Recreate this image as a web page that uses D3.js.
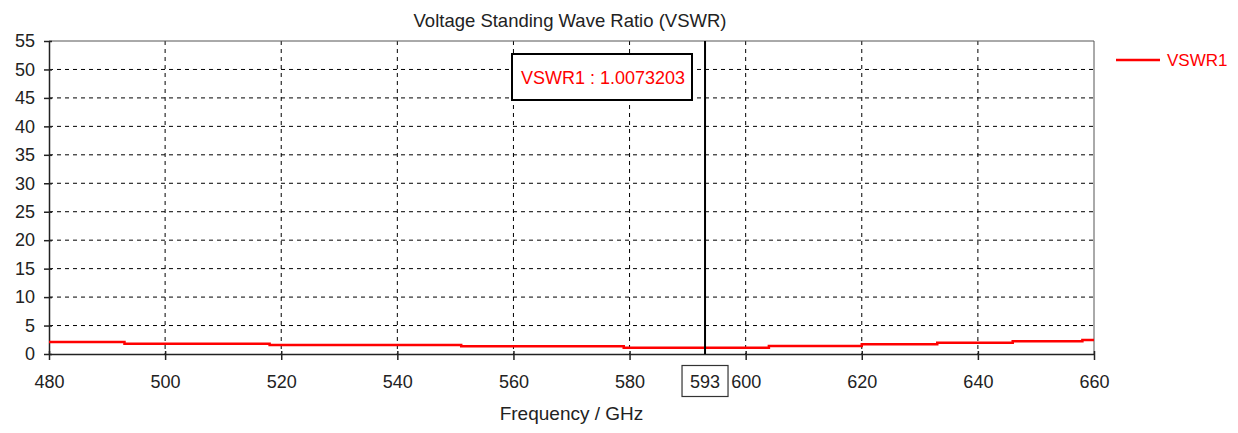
<!DOCTYPE html>
<html>
<head>
<meta charset="utf-8">
<script src="https://cdn.jsdelivr.net/npm/d3@7"></script>
<style>
  body { margin: 0; background: #fff; }
  text { font-family: 'Liberation Sans', Arial, sans-serif; }
</style>
</head>
<body>
<div id="chart"></div>
<script>
// step points (GHz, VSWR)
const freqs = [480, 493, 518, 551, 579, 604, 620, 633, 646, 658, 660]
const vswr = [2.1, 1.82, 1.58, 1.35, 1.1, 1.4, 1.7, 1.98, 2.25, 2.48, 2.48]
const xTicks = [480, 500, 520, 540, 560, 580, 600, 620, 640, 660]
const yTicks = [0, 5, 10, 15, 20, 25, 30, 35, 40, 45, 50, 55]
const markerFreq = 593
const markerLabel = 'VSWR1 : 1.0073203'
const seriesName = 'VSWR1'

const width = 1238
const height = 433
const margin = { top: 41, right: 144, bottom: 79, left: 49 }

const svg = d3
  .select('#chart')
  .append('svg')
  .attr('width', width)
  .attr('height', height)

const x = d3
  .scaleLinear()
  .domain([480, 660])
  .range([margin.left, width - margin.right])
const y = d3
  .scaleLinear()
  .domain([0, 55])
  .range([height - margin.bottom, margin.top])

const x0 = x.range()[0], x1 = x.range()[1]
const yb = y.range()[0], yt = y.range()[1]

// grid
svg
  .selectAll('line.vgrid')
  .data(xTicks.slice(1, -1))
  .enter()
  .append('line')
  .attr('x1', d => x(d))
  .attr('x2', d => x(d))
  .attr('y1', yt)
  .attr('y2', yb)
  .attr('stroke', '#000')
  .attr('stroke-width', 1)
  .attr('stroke-dasharray', '4,4')
svg
  .selectAll('line.hgrid')
  .data(yTicks.slice(1, -1))
  .enter()
  .append('line')
  .attr('x1', x0)
  .attr('x2', x1)
  .attr('y1', d => y(d))
  .attr('y2', d => y(d))
  .attr('stroke', '#000')
  .attr('stroke-width', 1)
  .attr('stroke-dasharray', '4,4')

// frame
svg.append('line').attr('x1', x0).attr('x2', x1).attr('y1', yt).attr('y2', yt).attr('stroke', '#555')
svg.append('line').attr('x1', x1).attr('x2', x1).attr('y1', yt).attr('y2', yb).attr('stroke', '#555')

// axes
const xAxis = svg
  .append('g')
  .attr('transform', `translate(0,${yb})`)
  .call(d3.axisBottom(x).tickValues(xTicks).tickSize(6).tickSizeOuter(0).tickPadding(15))
const yAxis = svg
  .append('g')
  .attr('transform', `translate(${x0},0)`)
  .call(d3.axisLeft(y).tickValues(yTicks).tickSize(5).tickSizeOuter(0).tickPadding(9))

;[xAxis, yAxis].forEach(g => {
  g.select('.domain').attr('stroke', '#222').attr('stroke-width', 1.5)
  g.selectAll('.tick line').attr('stroke', '#222').attr('stroke-width', 1.5)
  g.selectAll('.tick text')
    .attr('fill', '#222')
    .style('font-size', '18px')
    .style('font-family', "'Liberation Sans', Arial, sans-serif")
})
// ticks cross the axis line
xAxis.selectAll('.tick line').attr('y1', -3)
yAxis.selectAll('.tick line').attr('x1', 3)

// data line
const line = d3
  .line()
  .x((d, i) => x(freqs[i]))
  .y(d => y(d))
  .curve(d3.curveStepAfter)
svg
  .append('path')
  .datum(vswr)
  .attr('d', line)
  .attr('fill', 'none')
  .attr('stroke', '#ff0000')
  .attr('stroke-width', 2.5)

// marker
svg
  .append('line')
  .attr('x1', x(markerFreq))
  .attr('x2', x(markerFreq))
  .attr('y1', yt)
  .attr('y2', yb)
  .attr('stroke', '#000')
  .attr('stroke-width', 2)

svg
  .append('rect')
  .attr('x', x(markerFreq) - 23)
  .attr('y', 365.5)
  .attr('width', 46)
  .attr('height', 31)
  .attr('fill', '#fff')
  .attr('stroke', '#333')
  .attr('stroke-width', 1.2)
svg
  .append('text')
  .attr('x', x(markerFreq))
  .attr('y', 388)
  .attr('text-anchor', 'middle')
  .attr('fill', '#222')
  .style('font-size', '18px')
  .text(markerFreq)

// marker readout box
svg
  .append('rect')
  .attr('x', 512)
  .attr('y', 54)
  .attr('width', 180)
  .attr('height', 46)
  .attr('fill', '#fff')
  .attr('stroke', '#000')
  .attr('stroke-width', 2)
svg
  .append('text')
  .attr('x', 603)
  .attr('y', 84)
  .attr('text-anchor', 'middle')
  .attr('fill', '#ff0000')
  .style('font-size', '18px')
  .text(markerLabel)

// title
svg
  .append('text')
  .attr('x', 570)
  .attr('y', 27)
  .attr('text-anchor', 'middle')
  .attr('fill', '#222')
  .style('font-size', '18.5px')
  .text('Voltage Standing Wave Ratio (VSWR)')

// x label
svg
  .append('text')
  .attr('x', (x0 + x1) / 2)
  .attr('y', 420)
  .attr('text-anchor', 'middle')
  .attr('fill', '#222')
  .style('font-size', '19px')
  .text('Frequency / GHz')

// legend
svg
  .append('line')
  .attr('x1', 1116)
  .attr('x2', 1160)
  .attr('y1', 60)
  .attr('y2', 60)
  .attr('stroke', '#ff0000')
  .attr('stroke-width', 2.5)
svg
  .append('text')
  .attr('x', 1167)
  .attr('y', 66)
  .attr('fill', '#ff0000')
  .style('font-size', '17px')
  .text(seriesName)
</script>
</body>
</html>
